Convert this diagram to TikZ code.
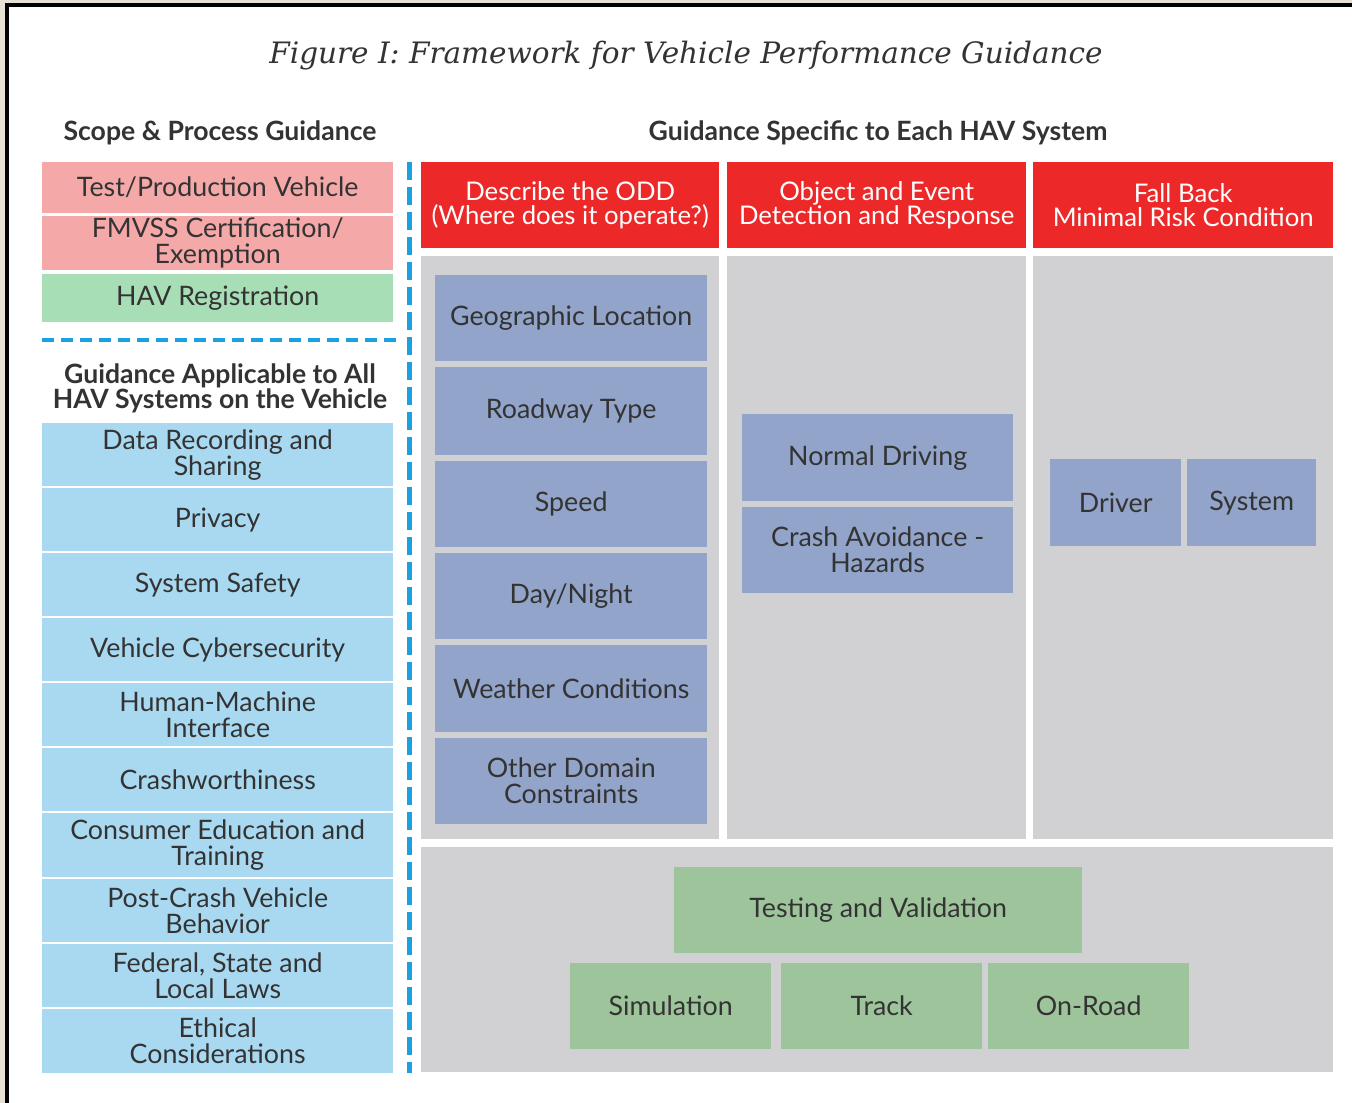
\documentclass[tikz,border=0pt]{standalone}
\usepackage{fontspec}
\setmainfont{Lato}
\newfontfamily\titlefont{DejaVu Serif}
\definecolor{beige}{RGB}{230,224,212}
\definecolor{pinkc}{RGB}{245,168,168}
\definecolor{hgreen}{RGB}{168,222,182}
\definecolor{lblue}{RGB}{169,217,241}
\definecolor{redc}{RGB}{236,40,41}
\definecolor{greyc}{RGB}{209,209,212}
\definecolor{slate}{RGB}{146,164,201}
\definecolor{tgreen}{RGB}{157,196,155}
\definecolor{dblue}{RGB}{27,161,226}
\definecolor{txt}{RGB}{51,51,51}
\tikzset{
  cell/.style={draw=none, inner sep=0pt, align=center, text=txt,
    font=\fontsize{26.8}{26}\selectfont, anchor=north west},
  pinkbox/.style={cell, fill=pinkc},
  hgbox/.style={cell, fill=hgreen},
  lbbox/.style={cell, fill=lblue},
  redbox/.style={cell, fill=redc, text=white, font=\fontsize{25.7}{23.5}\selectfont},
  greybox/.style={cell, fill=greyc},
  slatebox/.style={cell, fill=slate},
  tgbox/.style={cell, fill=tgreen},
  headtxt/.style={inner sep=0pt, align=center, text=txt, font=\bfseries\fontsize{26.6}{25}\selectfont},
  sep/.style={draw=dblue, line cap=butt}
}
\newcommand{\bx}[7]{\node[#6, minimum width={(#4-#2)*1pt}, minimum height={(#5-#3)*1pt}] (#1) at (#2,#3) {#7};}
\begin{document}
\begin{tikzpicture}[x=1pt,y=-1pt]
\useasboundingbox (0,0) rectangle (1352,1103);
\fill[beige] (0,0) rectangle (1352,1103);
\fill[black] (5,3) rectangle (1352,1103);
\fill[white] (9,7) rectangle (1352,1103);

\node[inner sep=0pt, anchor=base, text=txt, font=\titlefont\itshape\fontsize{29.5}{30}\selectfont] (title) at (686,63) {Figure I: Framework for Vehicle Performance Guidance};

% left column
\node[headtxt, anchor=base] (hscope) at (220,140) {Scope \& Process Guidance};
\bx{pa}{42}{162}{393}{213}{pinkbox}{Test/Production Vehicle}
\bx{pb}{42}{216}{393}{270}{pinkbox}{FMVSS Certification/\\Exemption}
\bx{hr}{42}{274}{393}{322}{hgbox}{HAV Registration}
\node[headtxt] (happ) at (220,388) {Guidance Applicable to All\\HAV Systems on the Vehicle};
\bx{l1}{42}{423}{393}{486}{lbbox}{Data Recording and\\Sharing}
\bx{l2}{42}{488}{393}{551}{lbbox}{Privacy}
\bx{l3}{42}{553}{393}{616}{lbbox}{System Safety}
\bx{l4}{42}{618}{393}{681}{lbbox}{Vehicle Cybersecurity}
\bx{l5}{42}{683}{393}{746}{lbbox}{Human-Machine\\Interface}
\bx{l6}{42}{748}{393}{811}{lbbox}{Crashworthiness}
\bx{l7}{42}{813}{393}{877}{lbbox}{Consumer Education and\\Training}
\bx{l8}{42}{879}{393}{942}{lbbox}{Post-Crash Vehicle\\Behavior}
\bx{l9}{42}{944}{393}{1007}{lbbox}{Federal, State and\\Local Laws}
\bx{l10}{42}{1009}{393}{1073}{lbbox}{Ethical\\Considerations}

\coordinate (hsA) at (42,340);
\coordinate (hsB) at (402,340);
\coordinate (vsA) at (409,162);
\coordinate (vsB) at (409,1073);
\draw[sep, line width=4pt, dash pattern=on 12pt off 7pt] (hsA) -- (hsB);
\draw[sep, line width=5pt, dash pattern=on 18pt off 7pt] (vsA) -- (vsB);

% right part
\node[headtxt, anchor=base] (hspec) at (878,140) {Guidance Specific to Each HAV System};
\bx{r1}{421}{162}{719}{248}{redbox}{Describe the ODD\\(Where does it operate?)}
\bx{r2}{727}{162}{1026}{248}{redbox}{Object and Event\\Detection and Response}
\bx{r3}{1033}{162}{1333}{248}{redbox}{Fall Back\\Minimal Risk Condition}
\bx{g1}{421}{256}{719}{839}{greybox}{}
\bx{g2}{727}{256}{1026}{839}{greybox}{}
\bx{g3}{1033}{256}{1333}{839}{greybox}{}
\bx{g4}{421}{847}{1333}{1072}{greybox}{}

\bx{o1}{435}{275}{707}{361}{slatebox}{Geographic Location}
\bx{o2}{435}{367}{707}{455}{slatebox}{Roadway Type}
\bx{o3}{435}{461}{707}{547}{slatebox}{Speed}
\bx{o4}{435}{553}{707}{639}{slatebox}{Day/Night}
\bx{o5}{435}{645}{707}{732}{slatebox}{Weather Conditions}
\bx{o6}{435}{738}{707}{824}{slatebox}{Other Domain\\Constraints}

\bx{n1}{742}{414}{1013}{501}{slatebox}{Normal Driving}
\bx{n2}{742}{507}{1013}{593}{slatebox}{Crash Avoidance -\\Hazards}

\bx{fd}{1050}{459}{1181}{546}{slatebox}{Driver}
\bx{fs}{1187}{459}{1316}{546}{slatebox}{System}

\bx{tv}{674}{867}{1082}{953}{tgbox}{Testing and Validation}
\bx{ts}{570}{963}{771}{1049}{tgbox}{Simulation}
\bx{tt}{781}{963}{982}{1049}{tgbox}{Track}
\bx{to}{988}{963}{1189}{1049}{tgbox}{On-Road}
\end{tikzpicture}
\end{document}
